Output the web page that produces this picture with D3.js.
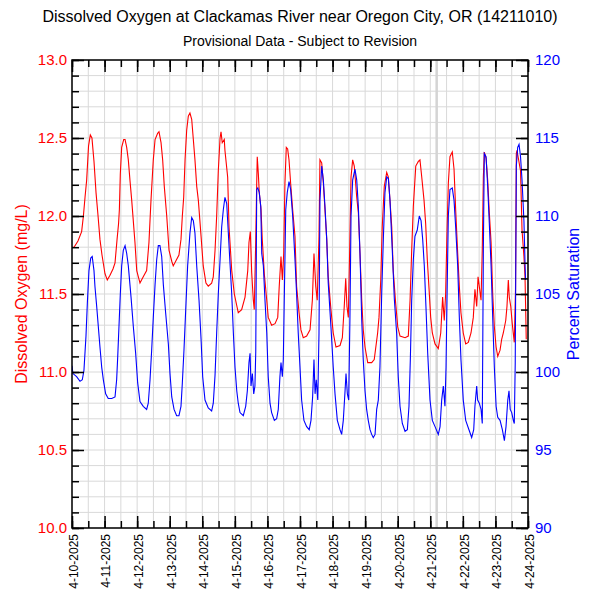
<!DOCTYPE html>
<html>
<head>
<meta charset="utf-8">
<script src="https://cdn.jsdelivr.net/npm/d3@7"></script>
<style>
  body { margin: 0; background: #fff; }
  text { font-family: "Liberation Sans", Arial, sans-serif; }
</style>
</head>
<body>
<div id="chart"></div>
<script>
// Dissolved oxygen / percent saturation, Clackamas River near Oregon City

var chartTitle = "Dissolved Oxygen at Clackamas River near Oregon City, OR (14211010)";
var chartSubtitle = "Provisional Data - Subject to Revision";

// hours since 4-10-2025 00:00
var doHours = [0,1.5,4.4,7.1,8.4,9.6,10.8,12.2,13.5,14.7,16.2,17.7,19.2,20.6,22.1,24.3,26.0,28.0,30.2,31.7,
  33.2,34.3,34.9,35.6,36.6,38.1,39.1,40.3,41.5,42.7,44.0,46.4,47.7,50.1,52.5,55.0,56.7,58.2,59.9,61.2,
  63.1,64.1,65.6,66.8,68.0,69.8,71.5,73.5,74.6,76.4,78.8,80.3,81.3,82.3,83.3,84.5,85.7,86.9,88.2,89.4,
  90.6,91.9,93.1,95.1,96.7,98.7,100.4,102.9,104.1,105.4,106.6,107.8,109.1,109.8,110.7,112.2,112.7,114.7,115.7,117.7,
  119.6,122.5,125.0,127.5,129.5,130.4,131.4,132.4,133.6,134.3,135.4,136.1,136.5,137.3,138.0,139.3,140.2,141.7,143.5,144.6,
  147.1,149.6,151.6,152.7,154.0,155.0,156.0,156.9,157.9,158.9,159.9,161.1,162.6,164.3,165.5,167.3,168.7,170.4,172.9,175.4,
  177.1,178.3,179.6,180.7,182.0,182.7,184.0,185.2,186.4,187.7,188.8,190.8,192.5,194.5,197.5,199.2,200.6,201.7,202.6,203.6,
  204.6,205.6,206.8,208.0,209.8,211.0,212.2,213.5,214.6,215.9,217.9,220.8,222.7,225.2,226.2,227.5,228.6,230.1,231.9,233.1,
  234.3,235.6,236.7,238.5,240.0,241.7,245.4,247.8,249.1,250.3,251.5,253.3,255.2,256.4,257.7,259.4,260.6,261.8,263.1,264.3,
  265.5,267.5,269.9,271.7,273.1,274.3,275.3,276.3,277.3,278.5,280.2,281.5,282.7,284.2,285.4,286.6,288.3,290.1,292.0,294.0,
  295.7,296.9,298.2,299.2,300.1,301.4,302.3,303.1,303.8,305.1,306.3,307.5,308.8,310.0,311.2,312.5,313.7,315.4,316.6,317.8,
  319.6,320.5,321.5,322.2,323.3,324.4,325.9,326.8,327.4,327.9,330.5,331.6,333.0,333.8,334.2,334.7];
var doValues = [11.80,11.80,11.84,11.90,12.00,12.12,12.23,12.45,12.52,12.50,12.35,12.15,12.00,11.85,11.75,11.63,11.59,11.62,11.66,11.70,
  11.85,11.95,12.04,12.27,12.44,12.49,12.49,12.44,12.36,12.23,12.10,11.83,11.65,11.57,11.61,11.65,11.83,12.10,12.36,12.49,
  12.53,12.54,12.47,12.36,12.19,12.00,11.78,11.71,11.68,11.71,11.75,11.85,12.00,12.12,12.36,12.55,12.64,12.66,12.62,12.49,
  12.36,12.19,12.10,11.87,11.68,11.57,11.55,11.57,11.61,11.78,12.00,12.29,12.50,12.54,12.47,12.49,12.42,12.25,11.93,11.65,
  11.50,11.38,11.40,11.48,11.65,11.83,11.90,11.64,11.46,11.40,11.85,12.21,12.38,12.27,12.15,12.04,11.85,11.63,11.46,11.35,
  11.30,11.31,11.35,11.55,11.74,11.59,11.76,12.21,12.44,12.43,12.36,12.21,12.04,11.87,11.55,11.38,11.27,11.22,11.23,11.27,
  11.46,11.76,11.55,11.46,11.87,12.36,12.34,12.21,12.04,11.85,11.61,11.40,11.25,11.16,11.17,11.22,11.42,11.60,11.42,11.35,
  11.78,12.25,12.36,12.32,12.12,12.02,11.76,11.46,11.27,11.16,11.06,11.06,11.08,11.25,11.35,11.59,11.93,12.19,12.28,12.25,
  12.10,11.93,11.65,11.44,11.29,11.23,11.22,11.23,11.46,11.78,12.06,12.32,12.35,12.36,12.25,12.10,11.95,11.72,11.53,11.35,
  11.25,11.18,11.15,11.25,11.48,11.33,11.50,11.89,12.21,12.38,12.41,12.30,12.04,11.76,11.55,11.38,11.25,11.18,11.19,11.25,
  11.35,11.53,11.42,11.61,11.55,11.46,11.78,12.25,12.41,12.37,12.23,12.02,11.83,11.50,11.29,11.16,11.10,11.14,11.21,11.25,
  11.33,11.42,11.59,11.48,11.42,11.31,11.19,11.53,12.40,12.42,12.29,11.91,11.74,11.61,11.44,11.21];

var satHours = [0,0.7,3.4,5.9,7.6,8.8,10.3,11.3,12.5,13.8,14.9,16.2,16.9,18.2,19.4,20.6,21.9,23.1,24.8,26.7,
  29.3,31.7,32.9,33.7,34.6,35.6,36.6,37.8,39.1,40.3,41.5,43.5,45.2,46.9,48.4,50.1,52.5,55.0,56.2,57.5,
  58.7,59.9,61.2,62.4,63.6,64.8,66.1,67.3,69.0,71.0,72.2,73.5,75.2,77.1,78.8,80.3,81.3,82.5,83.8,85.2,
  86.9,88.2,89.4,90.6,91.9,93.6,95.1,96.3,98.0,100.4,102.9,104.1,105.4,106.6,107.8,109.1,110.3,111.5,112.7,114.0,
  115.2,116.4,117.7,118.9,120.1,121.4,122.5,123.8,126.2,128.0,129.2,130.4,131.2,131.9,132.9,133.9,134.8,135.4,136.1,136.9,
  138.0,139.1,139.8,141.0,142.2,143.5,144.6,145.9,147.1,149.1,150.8,152.0,153.2,154.0,155.0,155.7,156.4,157.5,158.6,159.9,
  161.1,162.6,164.3,165.5,166.7,168.0,169.2,170.9,172.9,174.8,176.1,177.3,178.3,179.1,180.0,181.1,182.0,182.7,184.0,185.2,
  186.4,187.7,188.8,190.8,192.5,193.8,195.5,197.5,198.7,199.9,201.2,201.9,202.9,203.9,204.8,205.6,206.8,208.5,209.8,211.0,
  212.2,213.5,214.6,215.9,217.1,218.3,219.6,220.8,222.0,223.3,224.5,225.7,226.9,228.2,229.4,230.6,231.9,233.1,234.3,236.0,
  237.5,239.2,240.4,241.7,243.4,245.4,247.1,248.3,249.3,250.3,251.5,252.7,254.4,255.9,257.2,258.4,259.6,260.8,262.1,263.8,
  265.5,267.5,269.9,271.2,272.4,273.6,274.8,275.6,276.3,277.3,278.5,280.2,281.5,282.7,284.2,285.4,286.6,288.3,290.1,292.5,
  294.5,296.0,296.9,298.2,298.9,300.1,301.4,302.3,303.1,303.8,305.1,306.3,307.5,308.8,310.0,311.2,312.5,313.7,315.4,317.1,
  318.6,319.8,321.1,322.0,322.9,324.0,325.2,325.9,326.6,327.4,328.4,329.4,330.5,331.6,333.0,333.8,334.2];
var satValues = [100.4,99.9,99.7,99.4,99.5,100.1,102.3,104.4,106.5,107.3,107.4,106.5,105.5,104.2,102.9,101.6,100.3,99.5,98.6,98.3,
  98.3,98.4,99.5,101.0,102.9,105.0,106.8,107.8,108.1,107.6,106.8,104.8,102.9,101.2,99.3,98.1,97.8,97.6,98.0,99.5,
  101.4,103.5,105.6,107.2,108.1,108.1,107.4,105.6,103.8,101.8,99.9,98.4,97.6,97.2,97.2,97.8,99.3,101.4,104.0,106.8,
  108.9,109.9,109.7,108.9,106.8,104.6,102.1,99.7,98.2,97.7,97.5,98.0,99.8,102.5,105.0,107.2,109.3,110.4,111.2,110.8,
  108.9,107.0,105.0,102.5,100.3,98.8,98.0,97.4,97.2,97.8,98.8,100.6,101.2,99.1,99.9,98.6,99.1,101.3,111.7,111.8,
  111.5,110.6,107.6,106.8,104.6,102.5,99.7,98.0,97.4,96.9,97.0,97.6,99.7,100.6,99.7,100.8,104.6,110.4,111.5,112.2,
  111.7,110.0,107.2,105.0,102.5,100.3,98.2,96.9,96.5,96.3,96.9,98.4,100.8,98.6,99.5,98.2,102.5,111.0,113.2,112.3,
  110.6,108.5,105.7,102.9,100.3,98.6,96.9,96.3,96.0,96.9,98.8,99.9,98.6,98.2,103.5,110.0,112.3,113.0,112.3,110.6,
  107.6,103.3,100.8,98.8,97.6,96.9,96.3,96.0,95.8,96.0,97.6,98.2,100.3,105.0,108.5,111.5,112.5,112.4,111.0,107.8,
  104.7,102.5,99.7,97.8,96.7,96.2,96.3,97.8,100.8,104.6,107.2,108.7,109.1,110.0,109.7,108.5,106.8,104.2,101.2,98.2,
  96.9,96.5,96.0,96.5,98.2,99.1,97.8,100.3,104.6,110.0,111.7,111.8,111.0,109.3,106.8,103.5,100.8,98.2,96.9,96.3,
  95.8,96.3,97.8,99.1,98.2,98.0,97.6,96.7,107.8,114.0,113.8,111.9,109.5,106.8,103.5,100.3,97.8,97.1,96.9,96.3,
  95.6,96.5,98.2,98.8,97.6,97.4,96.9,96.7,100.6,113.2,114.4,114.6,113.8,112.3,109.7,107.0,105.9];

// gray marker line drawn across the plot (hours since start)
var markerHours = [268.7];

var startDate = new Date(2025, 3, 10);
var endDate = new Date(2025, 3, 24);

var leftTicks = [10.0, 10.5, 11.0, 11.5, 12.0, 12.5, 13.0];
var rightTicks = [90, 95, 100, 105, 110, 115, 120];

// set the dimensions and margins of the graph
var margin = {top: 60, right: 72, bottom: 72, left: 72},
  width = 600 - margin.left - margin.right,
  height = 600 - margin.top - margin.bottom;

var svgRoot = d3.select("#chart")
  .append("svg")
  .attr("width", 600)
  .attr("height", 600);

var svg = svgRoot.append("g")
  .attr("transform", "translate(" + margin.left + "," + margin.top + ")");

function hourToDate(h) {
  return new Date(startDate.getTime() + h * 3600 * 1000);
}

var x = d3.scaleTime()
  .domain([startDate, endDate])
  .range([0, width]);

var y = d3.scaleLinear()
  .domain([10, 13])
  .range([height, 0]);

var y2 = d3.scaleLinear()
  .domain([90, 120])
  .range([height, 0]);

var halfDays = d3.timeHour.every(12).range(startDate, d3.timeHour.offset(endDate, 1));
var days = d3.timeDay.range(startDate, d3.timeHour.offset(endDate, 1));
var tenths = d3.range(0, 31).map(function(i) { return 10 + i / 10; });
var percents = d3.range(90, 121);

// grid
svg.append("g")
  .selectAll("line")
  .data(halfDays)
  .enter()
  .append("line")
  .attr("x1", function(d) { return x(d); })
  .attr("x2", function(d) { return x(d); })
  .attr("y1", 0)
  .attr("y2", height)
  .style("stroke", "#d9d9d9")
  .style("stroke-width", 1);

svg.append("g")
  .selectAll("line")
  .data(tenths)
  .enter()
  .append("line")
  .attr("x1", 0)
  .attr("x2", width)
  .attr("y1", function(d) { return y(d); })
  .attr("y2", function(d) { return y(d); })
  .style("stroke", "#d9d9d9")
  .style("stroke-width", 1);

svg.append("g")
  .selectAll("line")
  .data(markerHours)
  .enter()
  .append("line")
  .attr("x1", function(d) { return x(hourToDate(d)); })
  .attr("x2", function(d) { return x(hourToDate(d)); })
  .attr("y1", 0)
  .attr("y2", height)
  .style("stroke", "#d4d4d4")
  .style("stroke-width", 2.5);

// lines
svg.append("clipPath")
  .attr("id", "clip")
  .append("rect")
  .attr("width", width)
  .attr("height", height);

var doLine = d3.line()
  .x(function(d, i) { return x(hourToDate(doHours[i])); })
  .y(function(d) { return y(d); });

var satLine = d3.line()
  .x(function(d, i) { return x(hourToDate(satHours[i])); })
  .y(function(d) { return y2(d); });

svg.append("path")
  .datum(doValues)
  .attr("clip-path", "url(#clip)")
  .attr("d", doLine)
  .style("fill", "none")
  .style("stroke", "#ff0000")
  .style("stroke-width", 1.1);

svg.append("path")
  .datum(satValues)
  .attr("clip-path", "url(#clip)")
  .attr("d", satLine)
  .style("fill", "none")
  .style("stroke", "#0000ff")
  .style("stroke-width", 1.1);

// axes, ticks point into the plot
function cleanAxis(g) {
  g.select(".domain").remove();
  g.selectAll(".tick line").style("stroke", "#000").style("stroke-width", 1.5);
}

svg.append("g")
  .call(d3.axisLeft(y).tickValues(tenths).tickSize(-7).tickFormat(""))
  .call(cleanAxis);
svg.append("g")
  .call(d3.axisLeft(y).tickValues(leftTicks).tickSize(-12).tickPadding(5).tickFormat(d3.format(".1f")))
  .call(cleanAxis)
  .selectAll("text")
  .style("fill", "#ff0000")
  .style("font-size", "15px");

svg.append("g")
  .attr("transform", "translate(" + width + ",0)")
  .call(d3.axisRight(y2).tickValues(percents).tickSize(-7).tickFormat(""))
  .call(cleanAxis);
svg.append("g")
  .attr("transform", "translate(" + width + ",0)")
  .call(d3.axisRight(y2).tickValues(rightTicks).tickSize(-12).tickPadding(7))
  .call(cleanAxis)
  .selectAll("text")
  .style("fill", "#0000ff")
  .style("font-size", "15px");

svg.append("g")
  .call(d3.axisTop(x).tickValues(halfDays).tickSize(-7).tickFormat(""))
  .call(cleanAxis);
svg.append("g")
  .call(d3.axisTop(x).tickValues(days).tickSize(-12).tickFormat(""))
  .call(cleanAxis);

svg.append("g")
  .attr("transform", "translate(0," + height + ")")
  .call(d3.axisBottom(x).tickValues(halfDays).tickSize(-7).tickFormat(""))
  .call(cleanAxis);
svg.append("g")
  .attr("transform", "translate(0," + height + ")")
  .call(d3.axisBottom(x).tickValues(days).tickSize(-12).tickFormat(d3.timeFormat("%-m-%d-%Y")))
  .call(cleanAxis)
  .selectAll("text")
  .attr("transform", "rotate(-90)")
  .attr("x", -6)
  .attr("y", 0)
  .attr("dy", "0.45em")
  .style("text-anchor", "end")
  .style("fill", "#000")
  .style("font-size", "12px");

// frame
svg.append("rect")
  .attr("width", width)
  .attr("height", height)
  .style("fill", "none")
  .style("stroke", "#000")
  .style("stroke-width", 1.5);

// titles
svgRoot.append("text")
  .attr("x", 300)
  .attr("y", 22)
  .attr("text-anchor", "middle")
  .style("font-size", "16px")
  .text(chartTitle);

svgRoot.append("text")
  .attr("x", 300)
  .attr("y", 46)
  .attr("text-anchor", "middle")
  .style("font-size", "14px")
  .text(chartSubtitle);

svgRoot.append("text")
  .attr("transform", "translate(27," + (margin.top + height / 2) + ") rotate(-90)")
  .attr("text-anchor", "middle")
  .style("font-size", "16px")
  .style("fill", "#ff0000")
  .text("Dissolved Oxygen (mg/L)");

svgRoot.append("text")
  .attr("transform", "translate(579," + (margin.top + height / 2) + ") rotate(-90)")
  .attr("text-anchor", "middle")
  .style("font-size", "16px")
  .style("fill", "#0000ff")
  .text("Percent Saturation");
</script>
</body>
</html>
